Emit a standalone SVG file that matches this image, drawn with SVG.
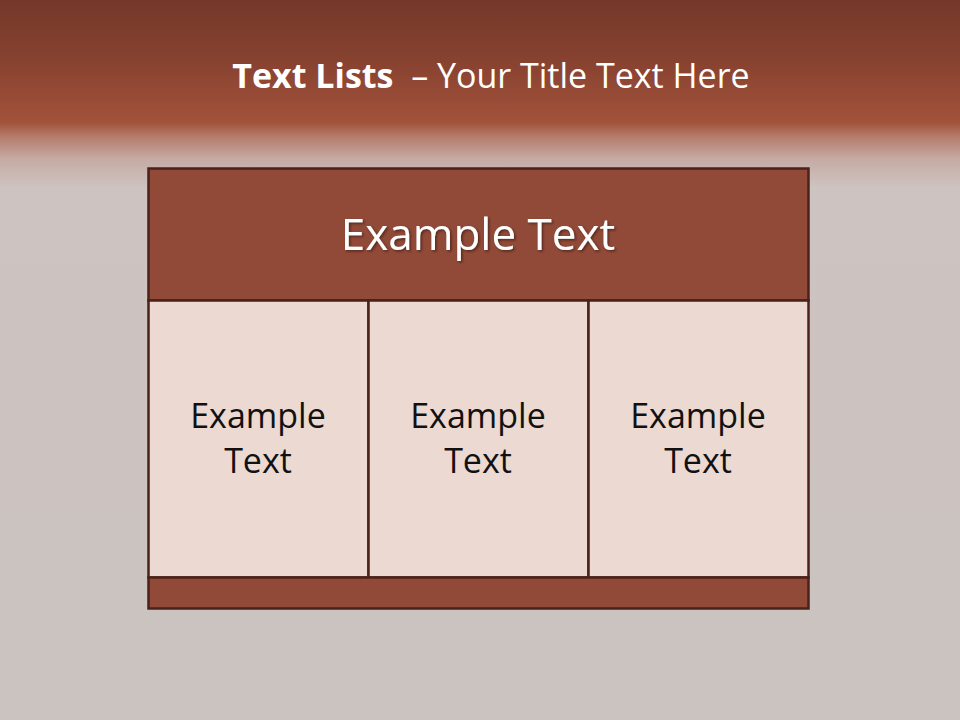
<svg xmlns="http://www.w3.org/2000/svg" width="960" height="720" viewBox="0 0 960 720">
<defs>
<linearGradient id="bg" x1="0" y1="0" x2="0" y2="1">
<stop offset="0" stop-color="#74382a"/>
<stop offset="0.08" stop-color="#86412f"/>
<stop offset="0.17" stop-color="#a2523b"/>
<stop offset="0.19" stop-color="#b47c6c"/>
<stop offset="0.22" stop-color="#c6aaa3"/>
<stop offset="0.26" stop-color="#cdc3c0"/>
<stop offset="1" stop-color="#cbc3c0"/>
</linearGradient>
<filter id="sh" x="-10%" y="-20%" width="120%" height="140%">
<feDropShadow dx="1.5" dy="1.5" stdDeviation="1" flood-color="#3a1a10" flood-opacity="0.7"/>
</filter>
</defs>
<style>
.box{stroke:#4a2219;stroke-width:2.5}
.dark{fill:#914a38}
.light{fill:#ecd9d2}
.cell{font-family:"Open Sans","Noto Sans",sans-serif;font-size:34px;fill:#111;text-anchor:middle}
</style>
<rect x="0" y="0" width="960" height="720" fill="url(#bg)"/>
<g id="title">
<text x="491" y="88" text-anchor="middle" font-family="'Open Sans','Noto Sans',sans-serif" font-size="34" fill="#ffffff" xml:space="preserve"><tspan font-weight="bold">Text Lists</tspan><tspan>  – Your Title Text Here</tspan></text>
</g>
<g id="header">
<rect class="box dark" x="148.5" y="168.5" width="660" height="132"/>
<text x="478" y="250" text-anchor="middle" font-family="'Open Sans','Noto Sans',sans-serif" font-size="44" fill="#ffffff" filter="url(#sh)">Example Text</text>
</g>
<g id="cell1">
<rect class="box light" x="148.5" y="300.5" width="220" height="277"/>
<text class="cell" x="258" y="428">Example</text>
<text class="cell" x="258" y="473">Text</text>
</g>
<g id="cell2">
<rect class="box light" x="368.5" y="300.5" width="220" height="277"/>
<text class="cell" x="478" y="428">Example</text>
<text class="cell" x="478" y="473">Text</text>
</g>
<g id="cell3">
<rect class="box light" x="588.5" y="300.5" width="220" height="277"/>
<text class="cell" x="698" y="428">Example</text>
<text class="cell" x="698" y="473">Text</text>
</g>
<g id="footer">
<rect class="box dark" x="148.5" y="577.5" width="660" height="31"/>
</g>
<g id="connectors"/>
</svg>
